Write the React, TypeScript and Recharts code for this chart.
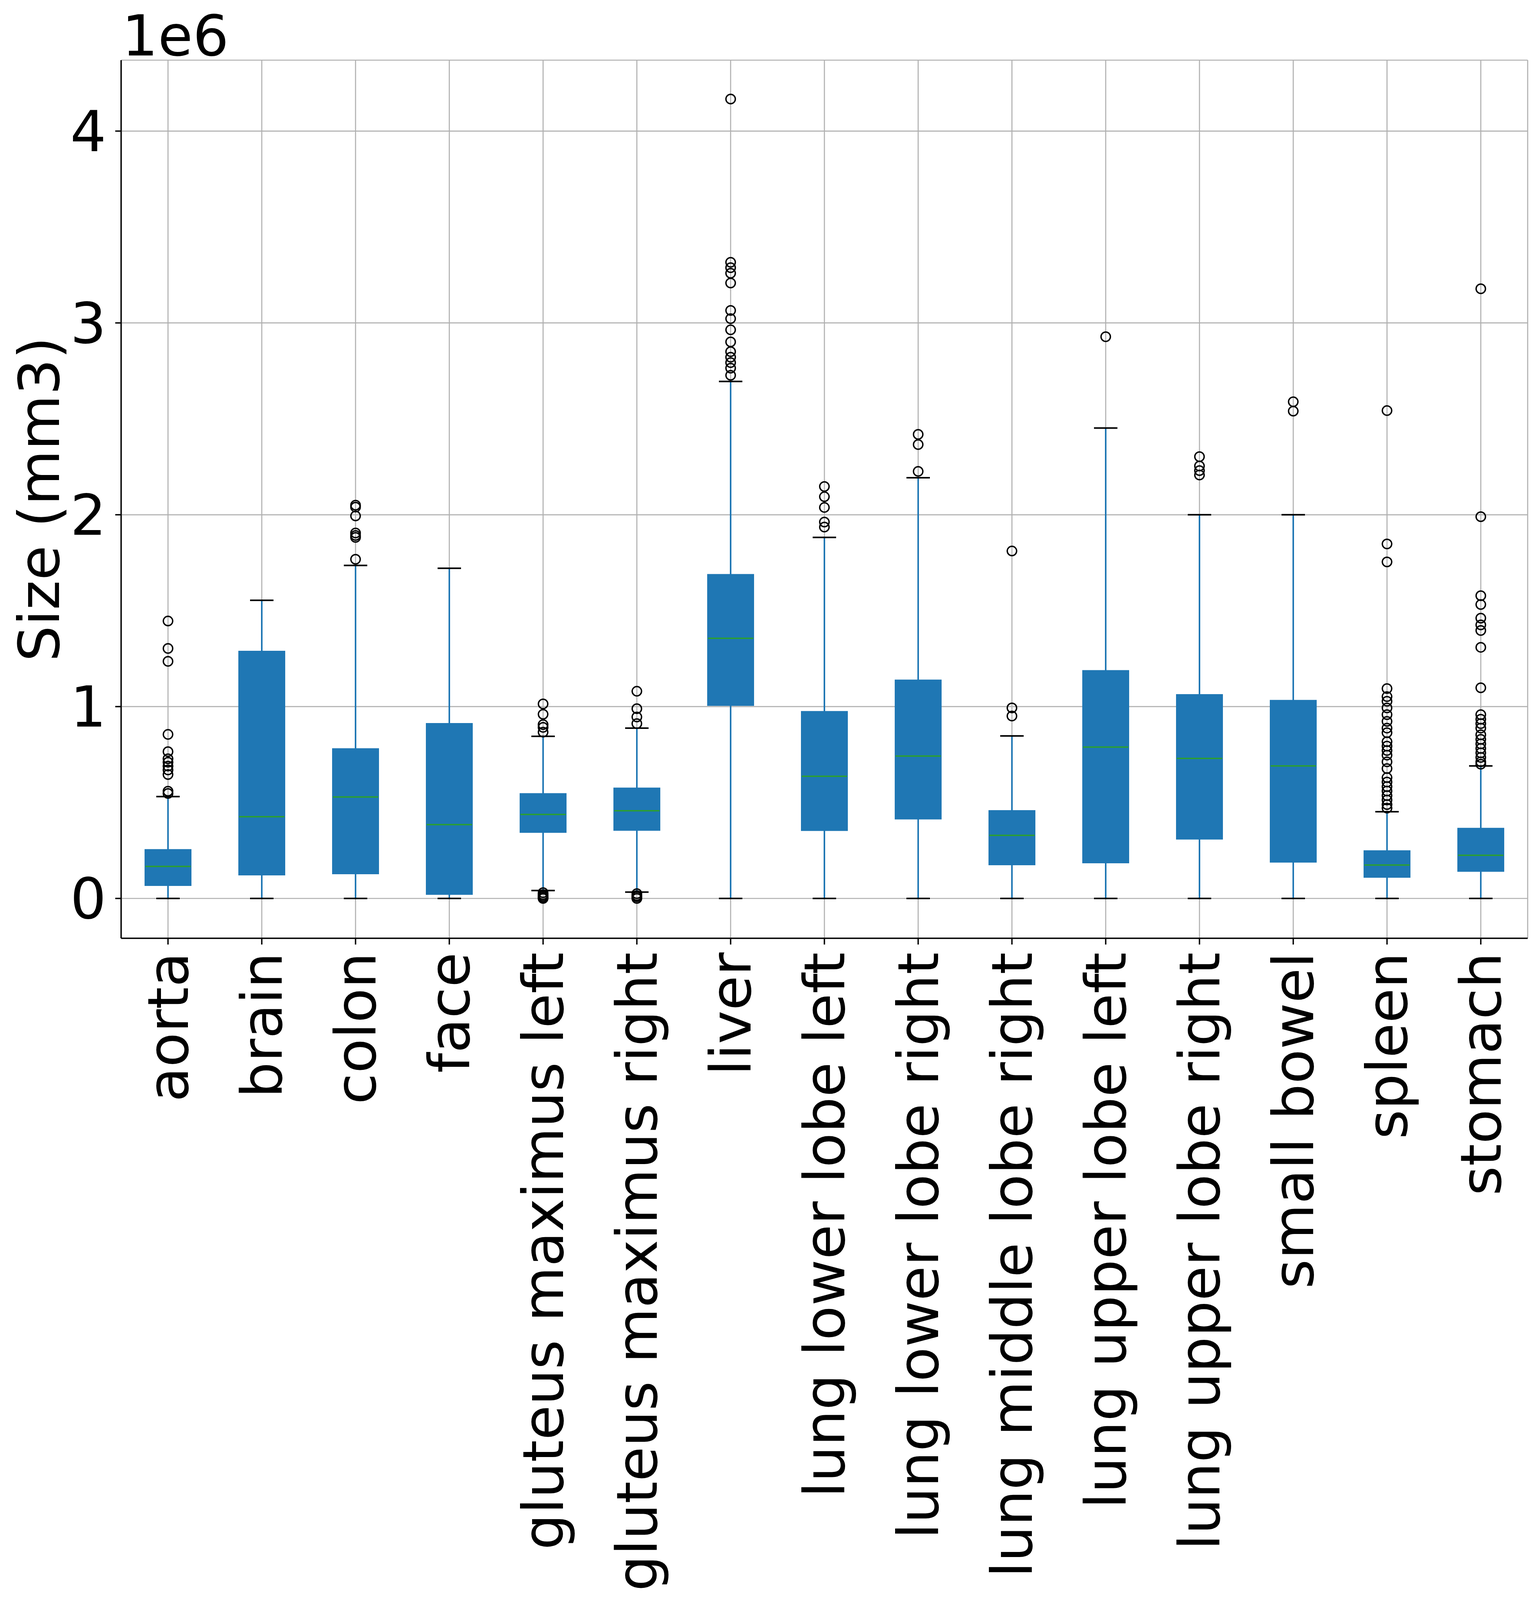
import React from "react";
import { ComposedChart, Bar, Scatter, XAxis, YAxis, CartesianGrid } from "recharts";

const categories = [
  "aorta",
  "brain",
  "colon",
  "face",
  "gluteus maximus left",
  "gluteus maximus right",
  "liver",
  "lung lower lobe left",
  "lung lower lobe right",
  "lung middle lobe right",
  "lung upper lobe left",
  "lung upper lobe right",
  "small bowel",
  "spleen",
  "stomach",
];

// box statistics, mm3
const whiskerLow = [0, 0, 0, 0, 41000, 33000, 0, 0, 0, 0, 0, 0, 0, 0, 0];
const q1 = [65000, 120000, 126000, 19000, 342000, 353000, 1004000, 352000, 412000, 173000, 183000, 307000, 187000, 108000, 139000];
const median = [167000, 426000, 529000, 385000, 438000, 457000, 1356000, 637000, 742000, 329000, 789000, 730000, 691000, 174000, 225000];
const q3 = [257000, 1291000, 783000, 914000, 549000, 578000, 1691000, 977000, 1141000, 460000, 1190000, 1065000, 1035000, 251000, 368000];
const whiskerHigh = [531000, 1554000, 1736000, 1721000, 845000, 888000, 2695000, 1882000, 2193000, 847000, 2452000, 2000000, 2000000, 452000, 691000];

// fliers
const aortaOut = [1446000, 1303000, 1236000, 855000, 765000, 728000, 710000, 690000, 670000, 646000, 559000, 547000];
const brainOut: number[] = [];
const colonOut = [2050000, 2040000, 1994000, 1905000, 1892000, 1882000, 1768000];
const faceOut: number[] = [];
const gluteusLeftOut = [1014000, 960000, 906000, 892000, 867000, 30000, 20000, 12000, 5000, 0];
const gluteusRightOut = [1080000, 989000, 946000, 911000, 25000, 15000, 8000, 0];
const liverOut = [4167000, 3316000, 3288000, 3259000, 3208000, 3065000, 3022000, 2964000, 2901000, 2850000, 2821000, 2793000, 2764000, 2727000];
const lungLowerLeftOut = [2147000, 2094000, 2038000, 1962000, 1936000];
const lungLowerRightOut = [2419000, 2366000, 2226000];
const lungMiddleRightOut = [1811000, 993000, 951000];
const lungUpperLeftOut = [2928000];
const lungUpperRightOut = [2303000, 2254000, 2230000, 2207000];
const smallBowelOut = [2589000, 2540000];
const spleenOut = [2543000, 1848000, 1754000, 1094000, 1052000, 1028000, 993000, 958000, 923000, 888000, 864000, 817000, 794000, 771000, 747000, 712000, 677000, 630000, 607000, 583000, 560000, 536000, 513000, 489000, 471000];
const stomachOut = [3178000, 1990000, 1578000, 1532000, 1461000, 1426000, 1397000, 1309000, 1098000, 958000, 934000, 911000, 888000, 853000, 829000, 806000, 782000, 759000, 735000, 712000, 700000];

const outliers = [
  aortaOut, brainOut, colonOut, faceOut, gluteusLeftOut, gluteusRightOut, liverOut,
  lungLowerLeftOut, lungLowerRightOut, lungMiddleRightOut, lungUpperLeftOut,
  lungUpperRightOut, smallBowelOut, spleenOut, stomachOut,
];

const yTicks = [0, 1000000, 2000000, 3000000, 4000000];

const data = categories.map((name, i) => ({
  name,
  low: whiskerLow[i],
  q1: q1[i],
  med: median[i],
  q3: q3[i],
  high: whiskerHigh[i],
}));

const fliers = categories.flatMap((name, i) => outliers[i].map((v) => ({ name, v })));

const BLUE = "#1f77b4";
const GREEN = "#2ca02c";
const FONT = "DejaVu Sans";
const FS = 145;
const W = 3939;
const H = 4265;

const Whisker = (props: any) => {
  const { x, y, width, height } = props;
  const top = Math.min(y, y + height);
  const bot = Math.max(y, y + height);
  const cx = x + width / 2;
  return (
    <g>
      <line x1={cx} x2={cx} y1={top} y2={bot} stroke={BLUE} strokeWidth={4} />
      <line x1={x + width / 4} x2={x + (width * 3) / 4} y1={top} y2={top} stroke="#000" strokeWidth={4} />
      <line x1={x + width / 4} x2={x + (width * 3) / 4} y1={bot} y2={bot} stroke="#000" strokeWidth={4} />
    </g>
  );
};

const MedianLine = (props: any) => {
  const { x, y, width } = props;
  return <line x1={x + 2} x2={x + width - 2} y1={y} y2={y} stroke={GREEN} strokeWidth={3.5} />;
};

const Flier = (props: any) => (
  <circle cx={props.cx} cy={props.cy} r={12} fill="none" stroke="#000" strokeWidth={3.5} />
);

const XTick = (props: any) => {
  const { x, y, payload } = props;
  return (
    <text
      x={x}
      y={y}
      transform={`rotate(-90, ${x}, ${y})`}
      textAnchor="end"
      dominantBaseline="central"
      fontSize={FS}
      fontFamily={FONT}
      fill="#000"
    >
      {payload.value}
    </text>
  );
};

export default function App() {
  return (
    <div style={{ position: "absolute", left: 0, top: 0, width: W, height: H, background: "#fff" }}>
      <ComposedChart
        width={W}
        height={H}
        data={data}
        margin={{ top: 154, right: 29, left: 10, bottom: 0 }}
        barSize={120}
        barGap={-120}
      >
        <CartesianGrid stroke="#b0b0b0" strokeWidth={2.7} />
        <XAxis
          dataKey="name"
          allowDuplicatedCategory={false}
          height={1863}
          interval={0}
          tick={<XTick />}
          tickSize={16}
          tickMargin={20}
          tickLine={{ stroke: "#000", strokeWidth: 3.5 }}
          axisLine={{ stroke: "#000", strokeWidth: 3.5 }}
        />
        <XAxis
          xAxisId="top"
          orientation="top"
          dataKey="name"
          allowDuplicatedCategory={false}
          height={0}
          tick={false}
          tickLine={false}
          axisLine={{ stroke: "#000", strokeWidth: 3.5 }}
        />
        <YAxis
          type="number"
          width={300}
          domain={[-207700, 4369700]}
          allowDataOverflow
          ticks={yTicks}
          tickFormatter={(v: number) => String(v / 1000000)}
          tick={{ fontSize: FS, fill: "#000", fontFamily: FONT }}
          tickSize={15}
          tickMargin={23}
          tickLine={{ stroke: "#000", strokeWidth: 3.5 }}
          axisLine={{ stroke: "#000", strokeWidth: 3.5 }}
        />
        <YAxis
          yAxisId="right"
          orientation="right"
          type="number"
          width={0}
          domain={[-207700, 4369700]}
          allowDataOverflow
          tick={false}
          tickLine={false}
          axisLine={{ stroke: "#000", strokeWidth: 3.5 }}
        />
        <Bar dataKey={(d: any) => [d.low, d.high]} shape={<Whisker />} isAnimationActive={false} />
        <Bar dataKey={(d: any) => [d.q1, d.q3]} fill={BLUE} isAnimationActive={false} />
        <Bar dataKey={(d: any) => [d.med, d.med]} shape={<MedianLine />} isAnimationActive={false} />
        <Scatter data={fliers} dataKey="v" shape={<Flier />} isAnimationActive={false} />
      </ComposedChart>
      <svg
        width={W}
        height={H}
        style={{ position: "absolute", left: 0, top: 0, pointerEvents: "none" }}
      >
        <text x={312} y={142} fontSize={FS} fontFamily={FONT} fill="#000">
          1e6
        </text>
        <text
          x={100}
          y={1278}
          transform="rotate(-90, 100, 1278)"
          textAnchor="middle"
          dominantBaseline="central"
          fontSize={FS}
          fontFamily={FONT}
          fill="#000"
        >
          Size (mm3)
        </text>
      </svg>
    </div>
  );
}
